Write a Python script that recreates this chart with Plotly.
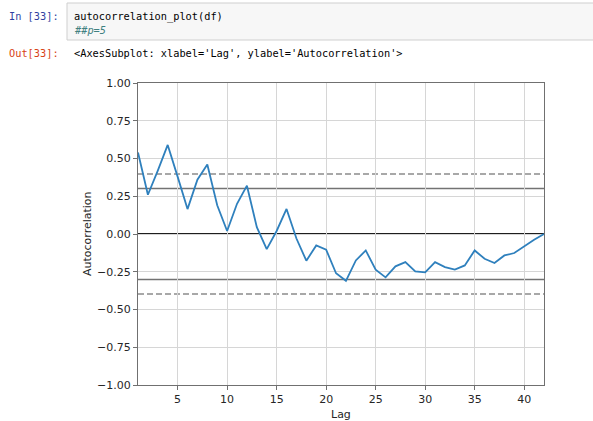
import plotly.graph_objects as go

# ---- data ----
lags = list(range(1, 43))
acf = [0.54, 0.26, 0.42, 0.59, 0.38, 0.165, 0.36, 0.46, 0.19, 0.02,
       0.20, 0.32, 0.045, -0.10, 0.02, 0.166, -0.03, -0.177, -0.076, -0.104,
       -0.26, -0.31, -0.175, -0.109, -0.236, -0.287, -0.214, -0.186, -0.247, -0.254,
       -0.186, -0.219, -0.236, -0.208, -0.109, -0.164, -0.192, -0.142, -0.126, -0.082,
       -0.038, 0.0]
conf99 = [0.397, -0.397]   # dashed grey
conf95 = [0.302, -0.302]   # solid grey
zero_line = [0.0]
x_ticks = [5, 10, 15, 20, 25, 30, 35, 40]
y_ticks = [-1.0, -0.75, -0.5, -0.25, 0.0, 0.25, 0.5, 0.75, 1.0]

in_prompt = "In [33]:"
code_line1 = "autocorrelation_plot(df)"
code_line2 = "##p=5"
out_prompt = "Out[33]:"
out_text = "&lt;AxesSubplot: xlabel='Lag', ylabel='Autocorrelation'&gt;"

W, H = 593, 421
L, R, T, B = 138, 49, 83, 36
PW, PH = W - L - R, H - T - B


def px(x):
    return (x - L) / PW


def py(y):
    return (H - B - y) / PH


fig = go.Figure()
fig.add_trace(go.Scatter(x=lags, y=acf, mode="lines",
                         line=dict(color="#2f80bd", width=1.8),
                         hoverinfo="skip", showlegend=False))

shapes = []
for v in conf99:
    shapes.append(dict(type="line", xref="paper", x0=0, x1=1, yref="y", y0=v, y1=v,
                       line=dict(color="#8c8c8c", width=1.4, dash="6px,3px"), layer="below"))
for v in conf95:
    shapes.append(dict(type="line", xref="paper", x0=0, x1=1, yref="y", y0=v, y1=v,
                       line=dict(color="#737373", width=1.5), layer="below"))
for v in zero_line:
    shapes.append(dict(type="line", xref="paper", x0=0, x1=1, yref="y", y0=v, y1=v,
                       line=dict(color="#1e1e1e", width=1.8), layer="below"))
# notebook code cell box
shapes.append(dict(type="rect", xref="paper", yref="paper",
                   x0=px(67), x1=px(605), y0=py(40), y1=py(3),
                   fillcolor="#f7f7f7", line=dict(color="#cfcfcf", width=1), layer="below"))

mono = "DejaVu Sans Mono"
fs = 10.3
annotations = [
    dict(text=in_prompt, x=px(61), y=py(16), xanchor="right", yanchor="middle",
         font=dict(family=mono, size=fs, color="#303F9F")),
    dict(text=code_line1, x=px(72), y=py(16), xanchor="left", yanchor="middle",
         font=dict(family=mono, size=fs, color="#000000")),
    dict(text="<i>" + code_line2 + "</i>", x=px(72), y=py(30), xanchor="left", yanchor="middle",
         font=dict(family=mono, size=fs, color="#408080")),
    dict(text=out_prompt, x=px(61), y=py(53), xanchor="right", yanchor="middle",
         font=dict(family=mono, size=fs, color="#D84315")),
    dict(text=out_text, x=px(72), y=py(53), xanchor="left", yanchor="middle",
         font=dict(family=mono, size=fs, color="#000000")),
    dict(text="Lag", x=0.5, y=py(414), xanchor="center", yanchor="middle",
         font=dict(family="DejaVu Sans", size=11, color="#262626")),
    dict(text="Autocorrelation", x=px(87), y=0.5, xanchor="center", yanchor="middle",
         textangle=-90, font=dict(family="DejaVu Sans", size=11, color="#262626")),
]
for a in annotations:
    a.update(xref="paper", yref="paper", showarrow=False)

fig.update_layout(
    template="none",
    width=W, height=H,
    margin=dict(l=L, r=R, t=T, b=B, pad=0),
    paper_bgcolor="white", plot_bgcolor="white",
    shapes=shapes, annotations=annotations,
    showlegend=False,
    xaxis=dict(range=[1, 42], tickvals=x_ticks, ticks="outside", ticklen=4,
               tickcolor="#707070", tickwidth=1,
               showgrid=True, gridcolor="#d6d6d6", gridwidth=1,
               showline=True, linecolor="#707070", linewidth=1, mirror=True,
               zeroline=False,
               tickfont=dict(family="DejaVu Sans", size=11, color="#262626")),
    yaxis=dict(range=[-1, 1], tickvals=y_ticks, tickformat=".2f", ticks="outside",
               ticklen=4, tickcolor="#707070", tickwidth=1,
               showgrid=True, gridcolor="#d6d6d6", gridwidth=1,
               showline=True, linecolor="#707070", linewidth=1, mirror=True,
               zeroline=False,
               tickfont=dict(family="DejaVu Sans", size=11, color="#262626")),
)

fig.write_html("out.html",
               config={"displayModeBar": False},
               post_script="document.body.style.margin='0';document.body.style.overflow='hidden';")
